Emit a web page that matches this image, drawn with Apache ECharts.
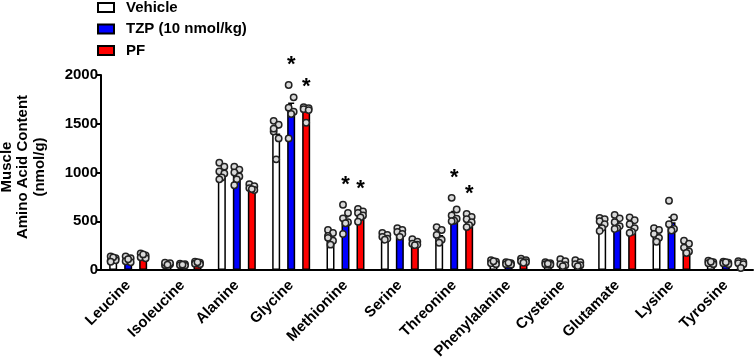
<!DOCTYPE html>
<html><head><meta charset="utf-8">
<script src="https://cdn.jsdelivr.net/npm/echarts@6/dist/echarts.min.js"></script>
<style>html,body{margin:0;padding:0;background:#fff}#c{width:754px;height:363px}</style>
</head><body><div id="c"></div>
<script>
const categories = ['Leucine','Isoleucine','Alanine','Glycine','Methionine','Serine','Threonine','Phenylalanine','Cysteine','Glutamate','Lysine','Tyrosine'];
const seriesNames = ['Vehicle','TZP (10 nmol/kg)','PF'];
const yTicks = [0, 500, 1000, 1500, 2000];

const vehicleMean = [110, 65, 1000, 1400, 340, 340, 360, 80, 65, 480, 370, 75];
const tzpMean     = [100, 55, 970, 1648, 500, 390, 560, 65, 70, 460, 490, 70];
const pfMean      = [130, 70, 820, 1640, 570, 270, 480, 85, 60, 420, 200, 65];

const vehicleSem = [8, 5, 30, 60, 22, 12, 30, 7, 5, 20, 25, 6];
const tzpSem     = [10, 4, 28, 62, 45, 15, 40, 5, 12, 22, 50, 5];
const pfSem      = [9, 5, 10, 25, 20, 10, 22, 7, 10, 25, 22, 10];

const vehiclePoints = [
  [95,120,140,100,130,85], [50,60,75,70,55], [1100,1060,1010,990,950,930],
  [1530,1490,1420,1350,1135,1450], [410,380,350,300,260,330], [380,360,340,320,310],
  [440,410,360,310,280], [100,85,70,60,90], [80,70,60,55,65],
  [535,520,500,470,430,400], [430,410,370,330,290], [95,80,70,60,85]
];
const tzpPoints = [
  [140,120,90,80,110], [65,60,50,45,55], [1060,1030,1000,960,930,870],
  [1897,1771,1665,1624,1600,1350], [670,585,530,490,480,370], [430,410,390,370,340],
  [740,620,560,525,505,500], [80,70,60,55,75], [110,90,60,50,40],
  [565,530,490,450,430,420], [710,540,470,420,405], [85,75,70,60,80]
];
const pfPoints = [
  [170,150,130,120,160], [85,75,65,60,80], [880,860,840,820,830],
  [1670,1660,1650,1640,1510], [625,600,585,560,540,495], [315,290,270,260,255],
  [575,545,520,490,460,440], [115,100,90,80,75], [100,80,60,50,40],
  [540,510,470,430,390,380], [300,270,230,190,175], [90,80,70,60,20]
];
const tzpSig = [0,0,0,1,1,0,1,0,0,0,0,0];
const pfSig  = [0,0,0,1,1,0,1,0,0,0,0,0];

const FONT = 'Liberation Sans, Arial, sans-serif';
const colors = ['#ffffff', '#0000ff', '#ff0000'];
const means = [vehicleMean, tzpMean, pfMean];
const sems = [vehicleSem, tzpSem, pfSem];
const points = [vehiclePoints, tzpPoints, pfPoints];
const sigs = [null, tzpSig, pfSig];
const OFFS = [-15, 0, 15];
const JIT = [-2.5, 2.5, -2.5, 2.5, 0, -2.5, 2.5];

const series = [];
for (let g = 0; g < 3; g++) {
  series.push({
    name: seriesNames[g], type: 'bar', data: means[g], barWidth: 8, barGap: '87.5%',
    itemStyle: { color: colors[g], borderColor: '#000', borderWidth: 1.5 }, z: 2, silent: true
  });
}
for (let g = 0; g < 3; g++) {
  series.push({
    name: 'err' + g, type: 'custom', z: 3, silent: true,
    data: means[g].map((m, i) => [i, m, sems[g][i]]),
    renderItem: (p, api) => {
      const a = api.coord([api.value(0), api.value(1)]);
      const b = api.coord([api.value(0), api.value(1) + api.value(2)]);
      const x = a[0] + OFFS[g];
      return { type: 'group', children: [
        { type: 'line', shape: { x1: x, y1: a[1], x2: x, y2: b[1] }, style: { stroke: '#000', lineWidth: 1.5 } },
        { type: 'line', shape: { x1: x - 3, y1: b[1], x2: x + 3, y2: b[1] }, style: { stroke: '#000', lineWidth: 1.5 } }
      ]};
    }
  });
}
for (let g = 0; g < 3; g++) {
  const d = [];
  points[g].forEach((arr, i) => arr.forEach((v, j) => d.push([i, v, j])));
  series.push({
    name: 'pts' + g, type: 'custom', z: 4, silent: true, data: d,
    renderItem: (p, api) => {
      const c = api.coord([api.value(0), api.value(1)]);
      const off = OFFS[g] + JIT[api.value(2) % JIT.length];
      return { type: 'circle', shape: { cx: c[0] + off, cy: c[1], r: 3.2 },
        style: { fill: '#d9d9d9', stroke: '#222', lineWidth: 1.5 } };
    }
  });
}
for (let g = 1; g < 3; g++) {
  const d = [];
  sigs[g].forEach((s, i) => { if (s) d.push([i, Math.max(...points[g][i])]); });
  series.push({
    name: 'sig' + g, type: 'custom', z: 5, silent: true, data: d,
    renderItem: (p, api) => {
      const c = api.coord([api.value(0), api.value(1)]);
      return { type: 'text', x: c[0] + OFFS[g], y: c[1] - 20,
        style: { text: '*', fill: '#000', font: 'bold 22px ' + FONT, align: 'center', verticalAlign: 'middle' } };
    }
  });
}

const chart = echarts.init(document.getElementById('c'), null, { renderer: 'canvas' });
chart.setOption({
  animation: false,
  backgroundColor: '#fff',
  textStyle: { fontFamily: FONT },
  legend: {
    data: seriesNames, orient: 'vertical', left: 92, top: -5, itemWidth: 16, itemHeight: 9, itemGap: 6.5,
    icon: 'rect', selectedMode: false,
    textStyle: { fontSize: 15, fontWeight: 'bold', color: '#000', fontFamily: FONT, padding: [0, 0, 0, 7] }
  },
  grid: { left: 101, right: 1, top: 75, bottom: 93, outerBoundsMode: 'none', containLabel: false },
  xAxis: {
    type: 'category', data: categories,
    axisLine: { lineStyle: { color: '#000', width: 2 } },
    axisTick: { alignWithLabel: true, length: 6, lineStyle: { color: '#000', width: 2 } },
    axisLabel: { rotate: 45, fontSize: 15, fontWeight: 'bold', color: '#000', margin: 13, fontFamily: FONT, interval: 0 }
  },
  yAxis: {
    type: 'value', min: yTicks[0], max: yTicks[yTicks.length - 1], interval: 500,
    axisLine: { show: true, lineStyle: { color: '#000', width: 2 } },
    axisTick: { show: true, length: 5, lineStyle: { color: '#000', width: 2 } },
    axisLabel: { fontSize: 15, fontWeight: 'bold', color: '#000', margin: 3, fontFamily: FONT, formatter: v => String(v) },
    splitLine: { show: false }
  },
  graphic: [{
    type: 'text', x: 23, y: 167, rotation: Math.PI / 2,
    style: { text: 'Muscle\nAmino Acid Content\n(nmol/g)', font: 'bold 15px ' + FONT, fill: '#000',
      align: 'center', verticalAlign: 'middle', lineHeight: 16.5 }
  }],
  series: series
});
</script></body></html>
